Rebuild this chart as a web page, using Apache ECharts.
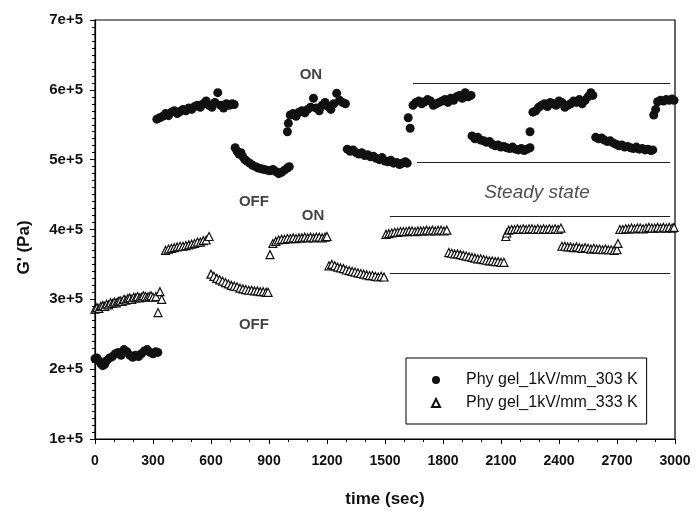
<!DOCTYPE html>
<html>
<head>
<meta charset="utf-8">
<script src="https://cdn.jsdelivr.net/npm/echarts@6/dist/echarts.min.js"></script>
<style>
  html, body { margin: 0; padding: 0; background: #fff; }
  #chart { width: 696px; height: 513px; }
</style>
</head>
<body>
<div id="chart"></div>
<script>
// G' values are in units of 1e5 Pa, time in seconds

// Phy gel_1kV/mm_303 K
var t303 = [
  0, 10, 20, 30, 40, 50, 60, 75, 90, 105, 120, 135, 150, 165, 180, 195, 210, 225, 240, 255, 270, 285, 300, 315, 325,
  320, 335, 350, 365, 380, 395, 410, 425, 440, 455, 470, 485, 500, 515, 530, 545, 560, 575, 590, 605, 620, 635, 650, 665, 680, 695, 710, 720,
  725, 735, 745, 755, 765, 775, 785, 800, 815, 830, 845, 860, 875, 890, 905, 920, 935, 950, 965, 980, 995, 1005,
  995, 1000, 1010, 1025, 1040, 1055, 1070, 1085, 1100, 1115, 1130, 1145, 1160, 1175, 1190, 1205, 1220, 1235, 1250, 1265, 1280, 1295,
  1305, 1320, 1335, 1350, 1365, 1380, 1395, 1410, 1425, 1440, 1455, 1470, 1485, 1500, 1515, 1530, 1545, 1560, 1575, 1590, 1605, 1615,
  1620, 1630, 1645, 1660, 1675, 1690, 1705, 1720, 1735, 1750, 1765, 1780, 1795, 1810, 1825, 1840, 1855, 1870, 1885, 1900, 1915, 1930, 1945,
  1950, 1965, 1980, 1995, 2010, 2025, 2040, 2055, 2070, 2085, 2100, 2115, 2130, 2145, 2160, 2175, 2190, 2205, 2220, 2235, 2250,
  2250, 2265, 2280, 2295, 2310, 2325, 2340, 2355, 2370, 2385, 2400, 2415, 2430, 2445, 2460, 2475, 2490, 2505, 2520, 2535, 2550, 2565, 2575,
  2590, 2605, 2620, 2635, 2650, 2665, 2680, 2695, 2710, 2725, 2740, 2755, 2770, 2785, 2800, 2815, 2830, 2845, 2860, 2875, 2885,
  2890, 2900, 2910, 2925, 2940, 2955, 2970, 2985, 2995
];
var g303 = [
  2.15, 2.16, 2.12, 2.08, 2.05, 2.07, 2.12, 2.16, 2.18, 2.22, 2.24, 2.2, 2.28, 2.25, 2.2, 2.17, 2.2, 2.18, 2.22, 2.26, 2.28, 2.24, 2.22, 2.25, 2.24,
  5.58, 5.6, 5.62, 5.66, 5.63, 5.68, 5.7, 5.66, 5.69, 5.72, 5.7, 5.74, 5.72, 5.76, 5.78, 5.75, 5.8, 5.84, 5.78, 5.75, 5.82, 5.96, 5.78, 5.74, 5.8, 5.78, 5.8, 5.79,
  5.17, 5.12, 5.08, 5.1, 5.04, 5.0, 4.98, 4.95, 4.92, 4.9, 4.88, 4.87, 4.86, 4.85, 4.84, 4.86, 4.83, 4.8, 4.82, 4.85, 4.88, 4.9,
  5.4, 5.52, 5.64, 5.66, 5.62, 5.68, 5.7, 5.67, 5.72, 5.75, 5.88, 5.74, 5.7, 5.78, 5.82, 5.76, 5.72, 5.8, 5.95, 5.85, 5.82, 5.8,
  5.15, 5.12, 5.14, 5.1, 5.08, 5.1, 5.06, 5.07, 5.04, 5.05, 5.02, 5.0, 5.03, 4.98, 4.97, 4.99, 4.95, 4.96, 4.93, 4.95, 4.97, 4.95,
  5.6, 5.45, 5.78, 5.82, 5.84, 5.8, 5.83, 5.86, 5.84, 5.78, 5.8, 5.82, 5.84, 5.86, 5.82, 5.88, 5.85, 5.9, 5.92, 5.88, 5.96, 5.9, 5.92,
  5.34, 5.3, 5.32, 5.28, 5.27, 5.25, 5.26, 5.22, 5.2, 5.21, 5.18, 5.19, 5.17, 5.16, 5.18, 5.15, 5.14, 5.16, 5.13, 5.15, 5.17,
  5.4, 5.68, 5.7, 5.75, 5.78, 5.8, 5.76, 5.82, 5.8, 5.78, 5.84, 5.82, 5.75, 5.78, 5.8, 5.84, 5.82, 5.86, 5.8, 5.85, 5.9, 5.96, 5.92,
  5.32, 5.3, 5.31, 5.28, 5.26, 5.27, 5.24, 5.22, 5.2, 5.21, 5.18, 5.19, 5.17, 5.16, 5.18, 5.15, 5.16, 5.14, 5.15, 5.13, 5.14,
  5.64, 5.72, 5.83, 5.85, 5.84, 5.86, 5.85, 5.87, 5.85
];

// Phy gel_1kV/mm_333 K
var t333 = [
  0, 10, 20, 30, 40, 50, 60, 70, 80, 90, 100, 110, 120, 130, 140, 150, 160, 170, 180, 190, 200, 210, 220, 230, 240, 250, 260, 270, 280, 290, 300, 315, 336, 326, 345,
  365, 380, 395, 410, 425, 440, 455, 470, 485, 500, 515, 530, 545, 560, 575, 590,
  600, 615, 630, 645, 660, 675, 690, 705, 720, 735, 750, 765, 780, 795, 810, 825, 840, 855, 870, 885, 895, 905,
  920, 935, 950, 965, 980, 995, 1010, 1025, 1040, 1055, 1070, 1085, 1100, 1115, 1130, 1145, 1160, 1175, 1190, 1200,
  1210, 1225, 1240, 1255, 1270, 1285, 1300, 1315, 1330, 1345, 1360, 1375, 1390, 1405, 1420, 1435, 1450, 1465, 1480, 1495,
  1505, 1520, 1535, 1550, 1565, 1580, 1595, 1610, 1625, 1640, 1655, 1670, 1685, 1700, 1715, 1730, 1745, 1760, 1775, 1790, 1805, 1820,
  1830, 1845, 1860, 1875, 1890, 1905, 1920, 1935, 1950, 1965, 1980, 1995, 2010, 2025, 2040, 2055, 2070, 2085, 2100, 2115,
  2125, 2130, 2140, 2155, 2170, 2185, 2200, 2215, 2230, 2245, 2260, 2275, 2290, 2305, 2320, 2335, 2350, 2365, 2380, 2395, 2410,
  2415, 2430, 2445, 2460, 2475, 2490, 2505, 2520, 2535, 2550, 2565, 2580, 2595, 2610, 2625, 2640, 2655, 2670, 2685, 2700, 2705,
  2715, 2730, 2745, 2760, 2775, 2790, 2805, 2820, 2835, 2850, 2865, 2880, 2895, 2910, 2925, 2940, 2955, 2970, 2985, 2995
];
var g333 = [
  2.86, 2.88, 2.87, 2.9, 2.91, 2.9, 2.93, 2.92, 2.95, 2.94, 2.96, 2.95, 2.97, 2.98, 2.97, 3.0, 2.99, 3.01, 3.02, 3.0, 3.03, 3.02, 3.04, 3.02, 3.03, 3.05, 3.04, 3.03, 3.04, 3.05, 3.03, 3.04, 3.11, 2.81, 3.0,
  3.7, 3.72, 3.73, 3.74, 3.75, 3.76, 3.76, 3.77, 3.78, 3.79, 3.8, 3.82, 3.82, 3.84, 3.85, 3.9,
  3.36, 3.33, 3.3, 3.28, 3.26, 3.24, 3.22, 3.2, 3.19, 3.18, 3.16, 3.15, 3.14, 3.13, 3.13, 3.12, 3.12, 3.11, 3.11, 3.1, 3.1, 3.64,
  3.8, 3.83, 3.85, 3.86, 3.86, 3.87, 3.87, 3.88, 3.87, 3.88, 3.88, 3.89, 3.88, 3.89, 3.88, 3.89, 3.89, 3.88, 3.89, 3.9,
  3.48, 3.5, 3.48, 3.46, 3.45, 3.44, 3.42, 3.41, 3.4, 3.39, 3.38, 3.37, 3.36, 3.35, 3.34, 3.34, 3.33, 3.32, 3.33, 3.32,
  3.93, 3.94, 3.95, 3.96, 3.96, 3.97, 3.97, 3.97, 3.98, 3.98, 3.97, 3.98, 3.98, 3.98, 3.99, 3.98, 3.99, 3.98, 3.99, 3.99, 3.98, 3.99,
  3.67, 3.66, 3.65, 3.65, 3.64, 3.63, 3.62, 3.61, 3.6, 3.59, 3.58, 3.58, 3.57, 3.56, 3.55, 3.55, 3.54, 3.54, 3.53, 3.53,
  3.9, 3.95, 3.99, 4.0, 4.0, 4.01, 4.0, 4.01, 4.0, 4.01, 4.01, 4.0, 4.01, 4.0, 4.01, 4.0, 4.01, 4.0, 4.01, 4.0, 4.02,
  3.76, 3.76, 3.75, 3.75, 3.74, 3.75, 3.74, 3.73, 3.74, 3.73, 3.72, 3.73, 3.72, 3.72, 3.71, 3.72, 3.71, 3.71, 3.7, 3.71, 3.8,
  4.0, 4.0, 4.01, 4.01, 4.02, 4.01, 4.02, 4.02, 4.01, 4.02, 4.03, 4.02, 4.02, 4.03, 4.02, 4.03, 4.02, 4.03, 4.02, 4.03
];

// steady state guide lines: [tStart, tEnd, G']
var steadyLines = [
  [1645, 2975, 6.1],
  [1665, 2975, 4.97],
  [1525, 2975, 4.19],
  [1525, 2975, 3.37]
];

// annotations: [text, t, G']
var notes = [
  ["ON", 1117, 6.21],
  ["OFF", 822, 4.4],
  ["ON", 1128, 4.19],
  ["OFF", 822, 2.63]
];
var steadyNote = ["Steady state", 2286, 4.53];

var xTicks = { min: 0, max: 3000, step: 300 };
var yTicks = { min: 1, max: 7, step: 1 };

var SCALE = 1e5;
var FONT = "'Liberation Sans', Arial, sans-serif";

function pairs(ts, gs) {
  return ts.map(function (t, i) { return [t, gs[i] * SCALE]; });
}

var chart = echarts.init(document.getElementById("chart"));

var option = {
  backgroundColor: "#fff",
  animation: false,
  grid: {
    left: 95, right: 21, top: 20, bottom: 73,
    show: true, borderColor: "#000", borderWidth: 1.2
  },
  legend: {
    orient: "vertical",
    left: 406, top: 358,
    padding: [14, 9, 13, 25],
    itemWidth: 8, itemHeight: 8, itemGap: 7,
    borderColor: "#000", borderWidth: 1,
    data: ["Phy gel_1kV/mm_303 K", "Phy gel_1kV/mm_333 K"],
    textStyle: { fontFamily: FONT, fontSize: 16, color: "#111", padding: [0, 0, 0, 21] }
  },
  xAxis: {
    type: "value",
    min: xTicks.min, max: xTicks.max, interval: xTicks.step,
    name: "time (sec)",
    nameLocation: "middle", nameGap: 52,
    nameTextStyle: { fontFamily: FONT, fontSize: 17, fontWeight: "bold", color: "#111" },
    axisLine: { lineStyle: { color: "#000", width: 1.2 } },
    axisTick: { show: true, length: 5, lineStyle: { color: "#000" } },
    minorTick: { show: true, splitNumber: 3, length: 3, lineStyle: { color: "#000" } },
    splitLine: { show: false },
    axisLabel: {
      margin: 15, fontFamily: FONT, fontSize: 14, fontWeight: "bold", color: "#111",
      formatter: function (v) { return String(v); }
    }
  },
  yAxis: {
    type: "value",
    min: yTicks.min * SCALE, max: yTicks.max * SCALE, interval: yTicks.step * SCALE,
    name: "G' (Pa)",
    nameLocation: "middle", nameGap: 62,
    nameTextStyle: { fontFamily: FONT, fontSize: 17, fontWeight: "bold", color: "#111", padding: [0, 36, 0, 0] },
    axisLine: { show: true, lineStyle: { color: "#000", width: 1.2 } },
    axisTick: { show: true, length: 5, lineStyle: { color: "#000" } },
    minorTick: { show: true, splitNumber: 10, length: 3, lineStyle: { color: "#000" } },
    splitLine: { show: false },
    axisLabel: {
      margin: 12, fontFamily: FONT, fontSize: 15, fontWeight: "bold", color: "#111",
      formatter: function (v) { return (v / SCALE) + "e+5"; }
    }
  },
  series: [
    {
      name: "Phy gel_1kV/mm_303 K",
      type: "scatter",
      symbol: "circle",
      symbolSize: 9,
      itemStyle: { color: "#111", opacity: 1 },
      data: pairs(t303, g303),
      markLine: {
        silent: true,
        symbol: "none",
        label: { show: false },
        lineStyle: { color: "#222", type: "solid", width: 1.2 },
        data: steadyLines.map(function (l) {
          return [{ coord: [l[0], l[2] * SCALE] }, { coord: [l[1], l[2] * SCALE] }];
        })
      }
    },
    {
      name: "Phy gel_1kV/mm_333 K",
      type: "scatter",
      symbol: "triangle",
      symbolSize: 8,
      itemStyle: { color: "#fff", borderColor: "#111", borderWidth: 1.2, opacity: 1 },
      data: pairs(t333, g333)
    },
    {
      name: "notes",
      type: "scatter",
      silent: true,
      symbolSize: 0,
      data: notes.map(function (n) { return { name: n[0], value: [n[1], n[2] * SCALE] }; }),
      label: {
        show: true, position: "inside",
        formatter: function (p) { return p.name; },
        fontFamily: FONT, fontSize: 15, fontWeight: "bold", color: "#111"
      }
    },
    {
      name: "steady",
      type: "scatter",
      silent: true,
      symbolSize: 0,
      data: [{ name: steadyNote[0], value: [steadyNote[1], steadyNote[2] * SCALE] }],
      label: {
        show: true, position: "inside",
        formatter: function (p) { return p.name; },
        fontFamily: FONT, fontSize: 19, fontStyle: "italic", color: "#222"
      }
    }
  ]
};

chart.setOption(option);
</script>
</body>
</html>
